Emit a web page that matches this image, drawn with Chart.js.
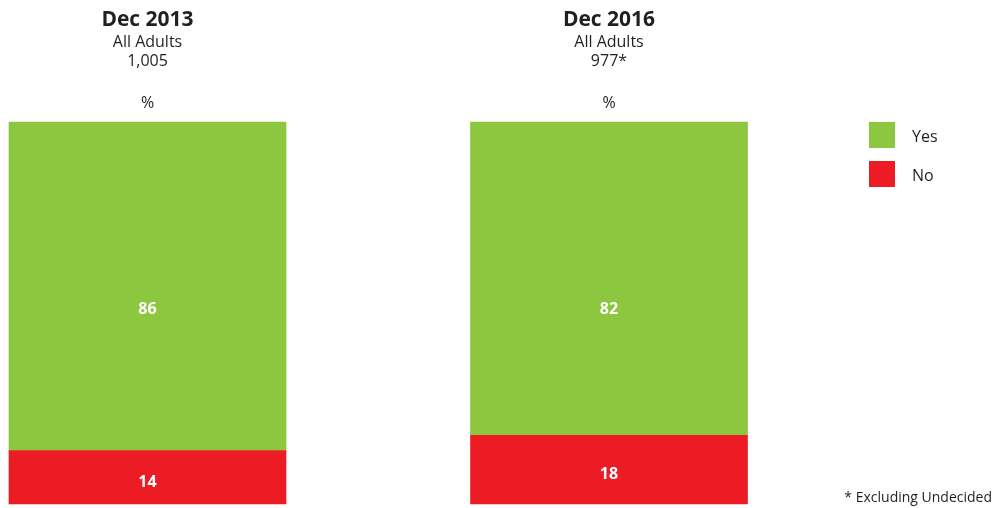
<!DOCTYPE html>
<html>
<head>
<meta charset="utf-8">
<script src="https://cdn.jsdelivr.net/npm/chart.js@4/dist/chart.umd.min.js"></script>
<style>
	body { margin:0; background:#fff; font-family:"Open Sans", sans-serif; color:#231f20; }
	#wrap { position:relative; width:995px; height:508px; }
	.legend { position:absolute; left:869px; font-size:16px; line-height:26px; }
	.legend span { display:inline-block; width:26px; height:26px; vertical-align:top; margin-right:17px; }
	.legend b { font-weight:normal; position:relative; top:1px; }
	.note { position:absolute; right:3px; top:487px; font-size:14px; }
</style>
</head>
<body>
<div id="wrap">
	<canvas id="myChart" width="995" height="508"></canvas>
	<div class="legend" style="top:122px;"><span style="background:#8dc63f"></span><b>Yes</b></div>
	<div class="legend" style="top:161px;"><span style="background:#ed1c24"></span><b>No</b></div>
	<div class="note">* Excluding Undecided</div>
</div>
<script>
let periods = ['Dec 2013', 'Dec 2016'];
let groups = ['All Adults', 'All Adults'];
let bases = ['1,005', '977*'];
let yesValues = [86, 82];
let noValues = [14, 18];

// headers above each bar
let headerPlugin = {
	id:'headers',
	afterDraw(chart) {
		let ctx = chart.ctx;
		let x = chart.scales.x;
		ctx.save();
		ctx.fillStyle = '#231f20';
		ctx.textAlign = 'center';
		ctx.textBaseline = 'middle';
		periods.forEach((p, i) => {
			let cx = x.getPixelForValue(i);
			ctx.font = 'bold 21px "Open Sans"';
			ctx.fillText(p, cx, 20);
			ctx.font = '16px "Open Sans"';
			ctx.fillText(groups[i], cx, 42);
			ctx.fillText(bases[i], cx, 61);
			ctx.fillText('%', cx, 103);
		});
		ctx.restore();
	}
};

// white value labels inside the bars
let labelPlugin = {
	id:'values',
	afterDatasetsDraw(chart) {
		let ctx = chart.ctx;
		ctx.save();
		ctx.fillStyle = '#fff';
		ctx.textAlign = 'center';
		ctx.textBaseline = 'middle';
		ctx.font = 'bold 16px "Open Sans"';
		chart.data.datasets.forEach((ds, di) => {
			chart.getDatasetMeta(di).data.forEach((bar, i) => {
				let y = (bar.y + bar.base) / 2 + 5;
				if(ds.label === 'Yes') y = (chart.scales.y.getPixelForValue(0) + bar.y) / 2 - 4;
				ctx.fillText(ds.data[i], bar.x, y);
			});
		});
		ctx.restore();
	}
};

const ctx = document.getElementById('myChart');

new Chart(ctx, {
	type: 'bar',
	data: {
		labels: periods,
		datasets: [
			{ label:'No', data:noValues, backgroundColor:'#ed1c24', barThickness:277, clip:false },
			{ label:'Yes', data:yesValues, backgroundColor:'#8dc63f', barThickness:277, clip:false }
		]
	},
	options: {
		responsive:false,
		animation:false,
		layout: { padding: { left:147.5, right:386, top:122, bottom:4 } },
		plugins: { legend:{ display:false }, tooltip:{ enabled:false } },
		scales: {
			x: { display:false, stacked:true, offset:false },
			y: { display:false, stacked:true, min:0, max:100 }
		}
	},
	plugins: [headerPlugin, labelPlugin]
});
</script>
</body>
</html>
